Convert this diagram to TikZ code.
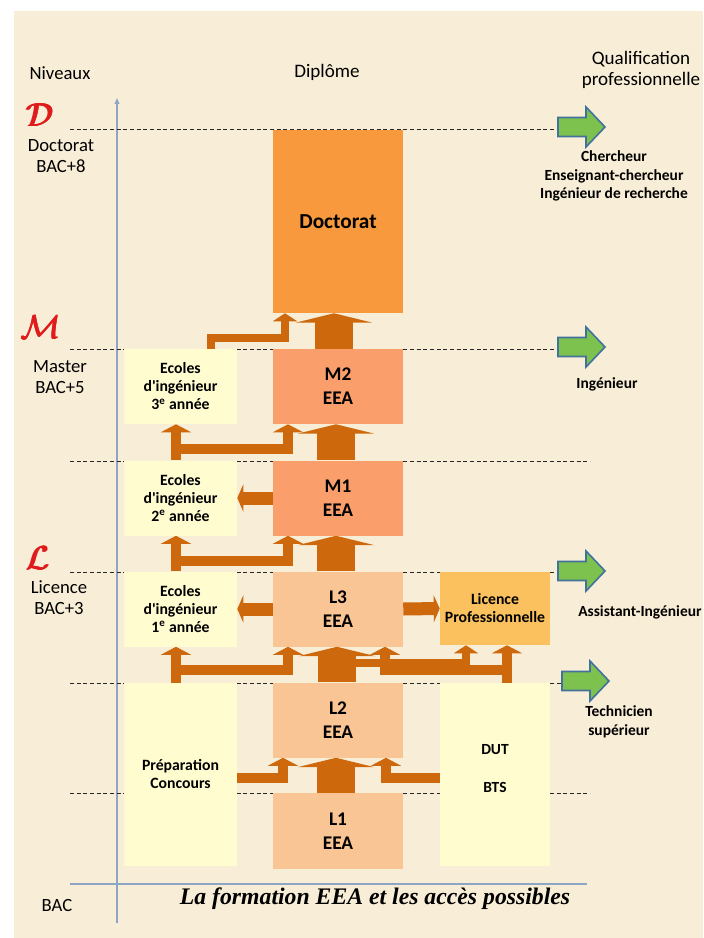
\documentclass[tikz,border=0pt]{standalone}
\usepackage{fontspec}
\setmainfont{Carlito}
\newfontfamily\capfont{Liberation Serif}
\usetikzlibrary{arrows.meta}
\definecolor{bg}{HTML}{F8EDD6}
\definecolor{ylw}{HTML}{FFFCD0}
\definecolor{peach}{HTML}{FAC594}
\definecolor{salmon}{HTML}{FA9E6C}
\definecolor{docor}{HTML}{F8993D}
\definecolor{lpor}{HTML}{FBC15E}
\definecolor{arr}{HTML}{CD680C}
\definecolor{gfill}{HTML}{7DC24F}
\definecolor{gline}{HTML}{41719C}
\definecolor{axisc}{HTML}{8DA6C6}
\definecolor{redl}{HTML}{E01B1B}
\newcommand\thickletter[1]{\rlap{$#1$}\kern0.45pt\rlap{$#1$}\kern0.45pt\rlap{$#1$}\kern0.45pt$#1$}
\begin{document}
\begin{tikzpicture}[x=0.75pt,y=-0.75pt,
  every node/.style={inner sep=0pt},
  boxbase/.style={align=center, font=\fontsize{11.8pt}{13.5pt}\selectfont\bfseries},
  lbox/.style={boxbase, fill=ylw, minimum width=84.75pt},
  cbox/.style={boxbase, minimum width=97.5pt, font=\fontsize{14.5pt}{18pt}\selectfont\bfseries},
  rbox/.style={boxbase, minimum width=82.5pt},
  rowh/.style={minimum height=56.25pt},
  tallh/.style={minimum height=137.25pt},
  lvl/.style={draw=black!85, line width=0.6pt, dash pattern=on 3pt off 2pt},
  axis/.style={draw=axisc, line width=0.9pt},
  sarr/.style={draw=arr, line width=8pt, -{Triangle[width=22.5pt,length=6pt]}},
  narr/.style={draw=arr, line width=6.5pt, -{Triangle[width=18pt,length=6pt]}},
  barr/.style={draw=arr, line width=28.5pt, -{Triangle[width=57pt,length=7pt]}},
  harr/.style={draw=arr, line width=9.75pt, -{Triangle[width=20.25pt,length=4.5pt]}},
  lab/.style={align=center, font=\fontsize{14pt}{15.75pt}\selectfont},
  rlab/.style={align=center, font=\fontsize{11.6pt}{14pt}\selectfont\bfseries},
  redlet/.style={text=redl, font=\fontsize{24pt}{24pt}\selectfont},
  garrow/.pic={\draw[fill=gfill, draw=gline, line width=1.2pt]
     (0,-9.5) -- (28,-9.5) -- (28,-20) -- (47,0) -- (28,20) -- (28,9.5) -- (0,9.5) -- cycle;}
]
\useasboundingbox (0,0) rectangle (703,938);
\fill[bg] (14,11) rectangle (703,938);

% axes
\draw[axis, -{Triangle[length=4.5pt,width=3.5pt]}] (117,923) -- (117,98);
\draw[axis] (70,884) -- (587,884);

% level dashed lines
\draw[lvl] (70,129.5) -- (558,129.5);
\draw[lvl] (70,349) -- (558,349);
\draw[lvl] (70,461) -- (590,461);
\draw[lvl] (70,572) -- (558,572);
\draw[lvl] (70,683) -- (562,683);
\draw[lvl] (70,793) -- (590,793);

% boxes: left column
\node[lbox, rowh] (e3) at (180.5,386.5) {Ecoles\\d\textquotesingle ingénieur\\3\textsuperscript{e} année};
\node[lbox, rowh] (e2) at (180.5,498) {Ecoles\\d\textquotesingle ingénieur\\2\textsuperscript{e} année};
\node[lbox, rowh] (e1) at (180.5,609) {Ecoles\\d\textquotesingle ingénieur\\1\textsuperscript{e} année};
\node[lbox, tallh] (prep) at (180.5,774.5) {Préparation\\Concours};

% centre column
\node[cbox, fill=docor, tallh, font=\fontsize{16pt}{18pt}\selectfont\bfseries] (doc) at (338,221.5) {Doctorat};
\node[cbox, fill=salmon, rowh] (m2) at (338,386.5) {M2\\EEA};
\node[cbox, fill=salmon, rowh] (m1) at (338,498) {M1\\EEA};
\node[cbox, fill=peach, rowh] (l3) at (338,609) {L3\\EEA};
\node[cbox, fill=peach, rowh] (l2) at (338,720) {L2\\EEA};
\node[cbox, fill=peach, minimum height=57pt] (l1) at (338,831) {L1\\EEA};

% right column
\node[rbox, fill=lpor, minimum height=54.75pt] (lp) at (495,608.5) {Licence\\Professionnelle};
\node[rbox, fill=ylw, tallh] (dut) at (495,774.5) {};
\node[rlab] (dutt) at (495,750) {DUT};
\node[rlab] (btst) at (495,787) {BTS};

% small elbow / side arrows
\draw[narr] (e3.north -| 211,0) |- (285,338) -- (doc.south -| 285,0);
\draw[sarr] (e2.north -| 176,0) -- (e3.south -| 176,0);
\draw[sarr] (e2.north -| 176,0) |- (288,449) -- (m2.south -| 288,0);
\draw[harr] (m1.west) -- (e2.east);
\draw[sarr] (e1.north -| 176,0) -- (e2.south -| 176,0);
\draw[sarr] (e1.north -| 176,0) |- (288,561) -- (m1.south -| 288,0);
\draw[harr] (l3.west) -- (e1.east);
\draw[harr] (l3.east) -- (lp.west);
\draw[sarr] (prep.north -| 176,0) -- (e1.south -| 176,0);
\draw[sarr] (prep.north -| 176,0) |- (288,670) -- (l3.south -| 288,0);
\draw[narr] (l2.north -| 348,0) |- (466,663) -- (lp.south -| 466,0);
\draw[sarr] (dut.north -| 507,0) -- (lp.south -| 507,0);
\draw[sarr] (dut.north -| 507,0) |- (385,670) -- (l3.south -| 385,0);
\draw[sarr] (prep.east |- 0,778) -| (283,770) -- (l2.south -| 283,0);
\draw[sarr] (dut.west |- 0,778) -| (386,770) -- (l2.south -| 386,0);

% big arrows
\draw[barr] (m2.north -| 334,0) -- (doc.south -| 334,0);
\draw[barr] (m1.north -| 336,0) -- (m2.south -| 336,0);
\draw[barr] (l3.north -| 336,0) -- (m1.south -| 336,0);
\draw[barr] (l2.north -| 337,0) -- (l3.south -| 337,0);
\draw[barr] (l1.north -| 336,0) -- (l2.south -| 336,0);

% green arrows
\pic at (558,127) {garrow};
\pic at (558,347) {garrow};
\pic at (558,571) {garrow};
\pic at (562,681) {garrow};

% headings
\node[lab] (niv) at (60,73) {Niveaux};
\node[lab, font=\fontsize{14.3pt}{15.75pt}\selectfont] (dip) at (327,72) {Diplôme};
\node[lab, font=\fontsize{14.3pt}{15.75pt}\selectfont] (qual) at (641,70) {Qualification\\professionnelle};

% levels
\node[redlet] (letD) at (40,115) {\thickletter{\mathcal{D}}};
\node[lab] (ldoc) at (61,156) {Doctorat\\BAC+8};
\node[redlet] (letM) at (41,327) {\thickletter{\mathcal{M}}};
\node[lab] (lmas) at (60,377) {Master\\BAC+5};
\node[redlet] (letL) at (38,558) {\thickletter{\mathcal{L}}};
\node[lab] (llic) at (59,598) {Licence\\BAC+3};
\node[lab] (lbac) at (57,905) {BAC};

% qualifications
\node[rlab] (q1) at (614,176) {Chercheur\\Enseignant-chercheur\\Ingénieur de recherche};
\node[rlab] (q2) at (607,384) {Ingénieur};
\node[rlab, anchor=west] (q3) at (578,612) {Assistant-Ingénieur};
\node[rlab] (q4) at (619,722) {Technicien\\supérieur};

% caption
\node[font=\capfont\bfseries\itshape\fontsize{17.8pt}{20pt}\selectfont] (cap) at (375,899) {La formation EEA et les accès possibles};
\end{tikzpicture}
\end{document}
